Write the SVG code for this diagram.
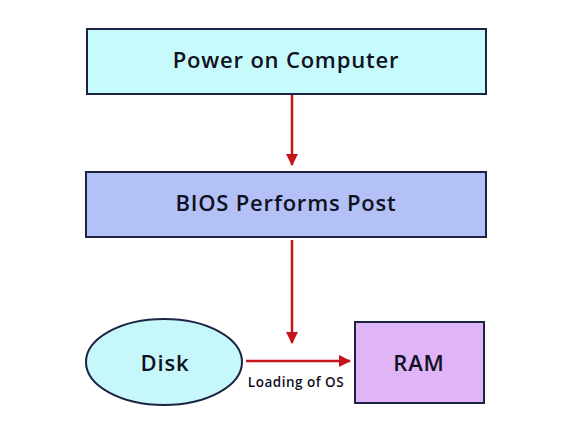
<svg xmlns="http://www.w3.org/2000/svg" width="571" height="435" viewBox="0 0 571 435">
<style>
.lbl{font-family:"Open Sans","Liberation Sans",sans-serif;font-weight:600;fill:#111122;text-anchor:middle}
.big{font-size:22px;letter-spacing:0.8px}
.small{font-size:13.5px;letter-spacing:0.5px}
.edge{stroke:#c4141c;stroke-width:2.5;fill:none}
.shape{stroke:#1c2444;stroke-width:2}
</style>
<defs>
<marker id="ah" markerWidth="12" markerHeight="12" refX="11" refY="6" orient="auto" markerUnits="userSpaceOnUse">
<path d="M0,0 L12,6 L0,12 z" fill="#c4141c"/>
</marker>
</defs>
<rect width="571" height="435" fill="#ffffff"/>
<g id="power">
<rect class="shape" x="87" y="29" width="399" height="65" fill="#c6fafb"/>
<text class="lbl big" x="286" y="68">Power on Computer</text>
</g>
<g id="bios">
<rect class="shape" x="86" y="172" width="400" height="65" fill="#b3c1f7"/>
<text class="lbl big" x="286" y="211">BIOS Performs Post</text>
</g>
<g id="disk">
<ellipse class="shape" cx="164" cy="362" rx="78" ry="43" fill="#c6f8fb"/>
<text class="lbl big" x="165" y="371">Disk</text>
</g>
<g id="ram">
<rect class="shape" x="355" y="322" width="129" height="81" fill="#dfb5f7"/>
<text class="lbl big" x="419" y="371">RAM</text>
</g>
<g id="connectors">
<line class="edge" x1="292" y1="95" x2="292" y2="165" marker-end="url(#ah)"/>
<line class="edge" x1="292" y1="240" x2="292" y2="343" marker-end="url(#ah)"/>
<line class="edge" x1="246" y1="361" x2="350" y2="361" marker-end="url(#ah)"/>
<text class="lbl small" x="296" y="387">Loading of OS</text>
</g>
</svg>
